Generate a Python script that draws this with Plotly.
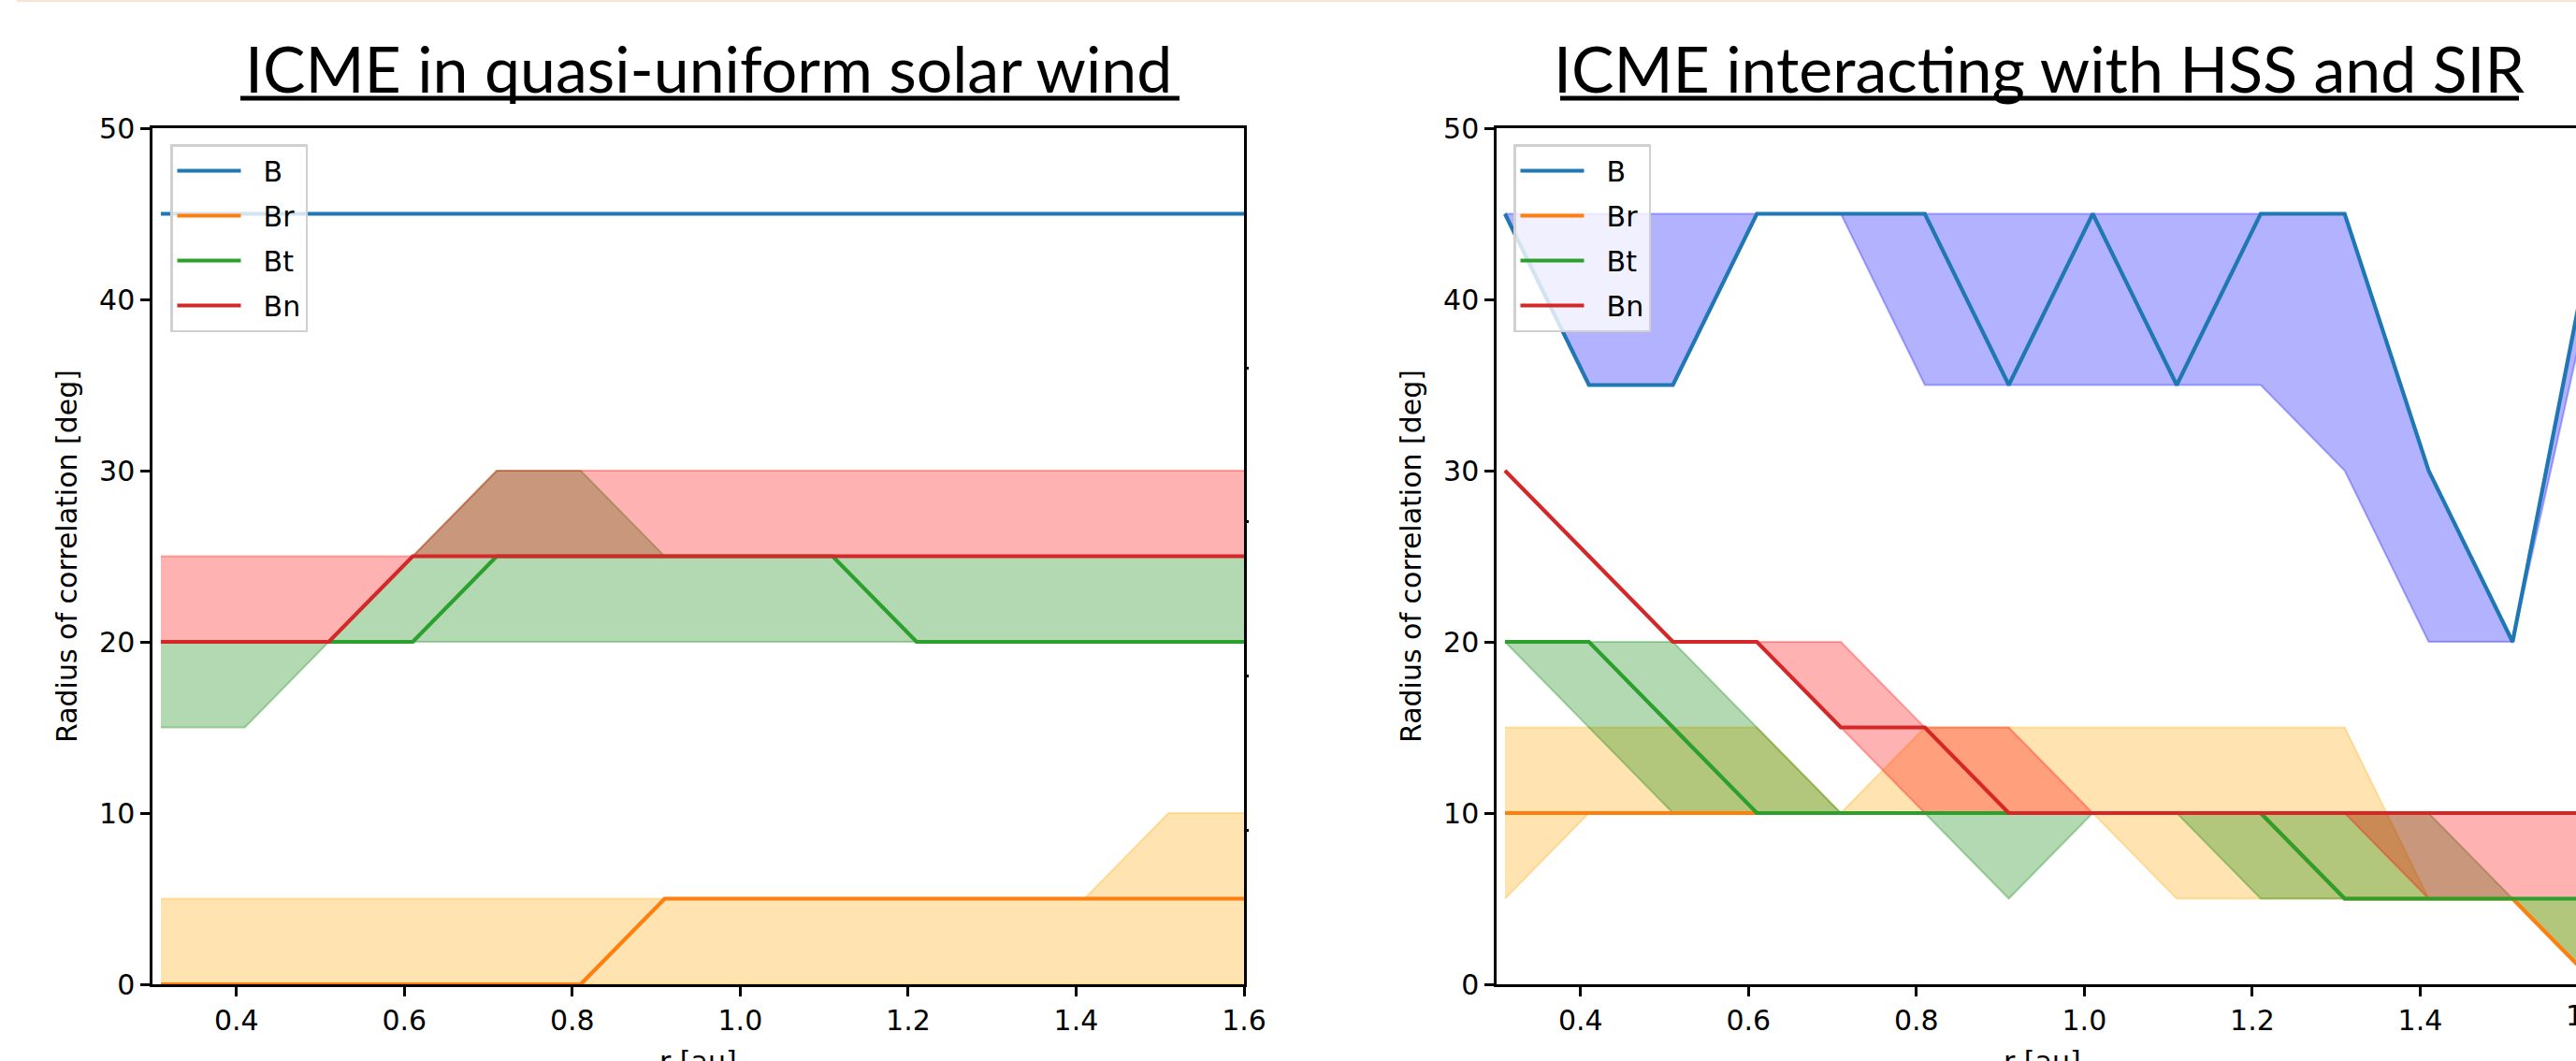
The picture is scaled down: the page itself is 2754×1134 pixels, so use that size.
import plotly.graph_objects as go

W, H = 2754, 1134

# ---------------- data ----------------
r = [0.31, 0.41, 0.51, 0.61, 0.71, 0.81, 0.91, 1.01, 1.11, 1.21, 1.31, 1.41, 1.51, 1.61]

# Left panel: ICME in quasi-uniform solar wind
L_B     = [45, 45, 45, 45, 45, 45, 45, 45, 45, 45, 45, 45, 45, 45]
L_B_lo  = [45, 45, 45, 45, 45, 45, 45, 45, 45, 45, 45, 45, 45, 45]
L_B_hi  = [45, 45, 45, 45, 45, 45, 45, 45, 45, 45, 45, 45, 45, 45]
L_Br    = [0, 0, 0, 0, 0, 0, 5, 5, 5, 5, 5, 5, 5, 5]
L_Br_lo = [0, 0, 0, 0, 0, 0, 0, 0, 0, 0, 0, 0, 0, 0]
L_Br_hi = [5, 5, 5, 5, 5, 5, 5, 5, 5, 5, 5, 5, 10, 10]
L_Bt    = [20, 20, 20, 20, 25, 25, 25, 25, 25, 20, 20, 20, 20, 20]
L_Bt_lo = [15, 15, 20, 20, 20, 20, 20, 20, 20, 20, 20, 20, 20, 20]
L_Bt_hi = [20, 20, 20, 25, 30, 30, 25, 25, 25, 25, 25, 25, 25, 25]
L_Bn    = [20, 20, 20, 25, 25, 25, 25, 25, 25, 25, 25, 25, 25, 25]
L_Bn_lo = [20, 20, 20, 25, 25, 25, 25, 25, 25, 25, 25, 25, 25, 25]
L_Bn_hi = [25, 25, 25, 25, 30, 30, 30, 30, 30, 30, 30, 30, 30, 30]

# Right panel: ICME interacting with HSS and SIR
R_B     = [45, 35, 35, 45, 45, 45, 35, 45, 35, 45, 45, 30, 20, 45]
R_B_lo  = [45, 35, 35, 45, 45, 35, 35, 35, 35, 35, 30, 20, 20, 42]
R_B_hi  = [45, 45, 45, 45, 45, 45, 45, 45, 45, 45, 45, 30, 20, 45]
R_Br    = [10, 10, 10, 10, 10, 10, 10, 10, 10, 10, 5, 5, 5, 0]
R_Br_lo = [5, 10, 10, 10, 10, 10, 10, 10, 5, 5, 5, 5, 5, 0]
R_Br_hi = [15, 15, 15, 15, 10, 15, 15, 15, 15, 15, 15, 5, 5, 5]
R_Bt    = [20, 20, 15, 10, 10, 10, 10, 10, 10, 10, 5, 5, 5, 5]
R_Bt_lo = [20, 15, 10, 10, 10, 10, 5, 10, 10, 5, 5, 5, 5, 0]
R_Bt_hi = [20, 20, 20, 15, 10, 10, 10, 10, 10, 10, 10, 10, 5, 5]
R_Bn    = [30, 25, 20, 20, 15, 15, 10, 10, 10, 10, 10, 10, 10, 10]
R_Bn_lo = [30, 25, 20, 20, 15, 10, 10, 10, 10, 10, 10, 5, 5, 5]
R_Bn_hi = [30, 25, 20, 20, 20, 15, 15, 10, 10, 10, 10, 10, 10, 10]

names = ["B", "Br", "Bt", "Bn"]
titles = ["ICME in quasi-uniform solar wind", "ICME interacting with HSS and SIR"]
x_title = "r [au]"
y_title = "Radius of correlation [deg]"
x_ticks = [0.4, 0.6, 0.8, 1.0, 1.2, 1.4, 1.6]
y_ticks = [0, 10, 20, 30, 40, 50]
twin_ticks = [9, 18, 27, 36]

# ---------------- styles ----------------
line_colors = ["#1f77b4", "#ff7f0e", "#2ca02c", "#d62728"]
fill_colors = ["rgba(0,0,255,0.3)", "rgba(255,165,0,0.3)", "rgba(0,128,0,0.3)", "rgba(255,0,0,0.3)"]
FONT = "DejaVu Sans"
FS = 30
NBSP = "\u00a0"

def px_x(p):
    return p / W

def px_y(p):
    return 1 - p / H

X1_DOM = [px_x(163), px_x(1330)]
X2_DOM = [px_x(1600), 1.0]
Y_DOM = [px_y(1052), px_y(137)]
X_RANGE1 = [0.3, 1.6]
scale = (1330 - 163) / (X_RANGE1[1] - X_RANGE1[0])
X_RANGE2 = [0.3, 0.3 + (W - 1600) / scale]

fig = go.Figure()

panels = [
    ("x", "y", "legend", [(L_B, L_B_lo, L_B_hi), (L_Br, L_Br_lo, L_Br_hi),
                          (L_Bt, L_Bt_lo, L_Bt_hi), (L_Bn, L_Bn_lo, L_Bn_hi)]),
    ("x2", "y2", "legend2", [(R_B, R_B_lo, R_B_hi), (R_Br, R_Br_lo, R_Br_hi),
                             (R_Bt, R_Bt_lo, R_Bt_hi), (R_Bn, R_Bn_lo, R_Bn_hi)]),
]

for xa, ya, leg, series in panels:
    # shaded ranges first
    for i, (ys, lo, hi) in enumerate(series):
        fig.add_trace(go.Scatter(x=r, y=lo, xaxis=xa, yaxis=ya, mode="lines",
                                 line=dict(color=fill_colors[i], width=2),
                                 showlegend=False, hoverinfo="skip"))
        fig.add_trace(go.Scatter(x=r, y=hi, xaxis=xa, yaxis=ya, mode="lines",
                                 fill="tonexty", fillcolor=fill_colors[i],
                                 line=dict(color=fill_colors[i], width=2),
                                 showlegend=False, hoverinfo="skip"))
    # lines on top
    for i, (ys, lo, hi) in enumerate(series):
        fig.add_trace(go.Scatter(x=r, y=ys, xaxis=xa, yaxis=ya, mode="lines",
                                 name=NBSP * 2 + names[i], legend=leg, legendgroup=leg + names[i],
                                 line=dict(color=line_colors[i], width=4.2)))

# empty trace carrying the small twin-axis ticks on the left panel's right spine
fig.add_trace(go.Scatter(x=[None], y=[None], xaxis="x", yaxis="y3", showlegend=False, hoverinfo="skip"))

axis_common = dict(showgrid=False, zeroline=False, showline=True, linecolor="black", automargin=False,
                   linewidth=2.5, ticks="outside", ticklen=10, tickwidth=2.5, tickcolor="black",
                   tickfont=dict(family=FONT, size=FS, color="black"))

xaxis_common = dict(axis_common, tickvals=x_ticks, tickformat=".1f")
yaxis_common = dict(axis_common, range=[0, 50], tickvals=y_ticks,
                    title=dict(text=y_title, font=dict(family=FONT, size=FS, color="black"), standoff=15))

legend_common = dict(font=dict(family=FONT, size=FS, color="black"), bgcolor="rgba(255,255,255,0.8)",
                     bordercolor="#d0d0d0", borderwidth=2.5, xanchor="left", yanchor="top",
                     tracegroupgap=6, itemwidth=68)

fig.update_layout(
    template="none",
    width=W, height=H, margin=dict(l=0, r=0, t=0, b=0, autoexpand=False),
    paper_bgcolor="white", plot_bgcolor="white",
    xaxis=dict(xaxis_common, domain=X1_DOM, range=X_RANGE1, anchor="y", mirror=True),
    yaxis=dict(yaxis_common, domain=Y_DOM, anchor="x", mirror=True),
    xaxis2=dict(xaxis_common, domain=X2_DOM, range=X_RANGE2, anchor="y2", mirror=True),
    yaxis2=dict(yaxis_common, domain=Y_DOM, anchor="x2", mirror=False),
    yaxis3=dict(overlaying="y", anchor="x", side="right", range=[0, 50], tickvals=twin_ticks,
                ticks="outside", ticklen=4, tickwidth=2.5, tickcolor="black", automargin=False,
                showticklabels=False, showgrid=False, zeroline=False, showline=False),
    legend=dict(legend_common, x=px_x(182), y=px_y(154)),
    legend2=dict(legend_common, x=px_x(1618), y=px_y(154)),
    showlegend=True,
)

def dom_pos(dom, rng, v):
    return dom[0] + (v - rng[0]) / (rng[1] - rng[0]) * (dom[1] - dom[0])

# x-axis titles, sitting low as in the original (partly cut by the page bottom)
for dom, rng in [(X1_DOM, X_RANGE1), (X2_DOM, X_RANGE2)]:
    fig.add_annotation(text=x_title, x=(X1_DOM[0] + X1_DOM[1]) / 2 if dom is X1_DOM else
                       dom_pos(X2_DOM, X_RANGE2, (X_RANGE1[0] + X_RANGE1[1]) / 2),
                       y=Y_DOM[0], xref="paper", yref="paper", xanchor="center", yanchor="top",
                       yshift=-63, showarrow=False, font=dict(family=FONT, size=FS, color="black"))

# clipped "1.6" tick label of the right panel (its axis end lies just past the page edge)
fig.add_annotation(text="1.6", x=dom_pos(X2_DOM, X_RANGE2, x_ticks[-1]), y=Y_DOM[0],
                   xref="paper", yref="paper", xanchor="center", yanchor="top", yshift=-14,
                   showarrow=False, font=dict(family=FONT, size=FS, color="black"))

# titles with underline
title_centers = [758, 2180]
underlines = [(257, 1261), (1668, 2693)]
for t, cx, (u0, u1) in zip(titles, title_centers, underlines):
    fig.add_annotation(text=t, x=px_x(cx), y=px_y(72), xref="paper", yref="paper",
                       xanchor="center", yanchor="middle", showarrow=False,
                       font=dict(family="Lato", size=68, color="black"))
    fig.add_shape(type="line", xref="paper", yref="paper", x0=px_x(u0), x1=px_x(u1),
                  y0=px_y(105), y1=px_y(105), line=dict(color="black", width=5))

# faint slide border line at top
fig.add_shape(type="line", xref="paper", yref="paper", x0=px_x(18), x1=1.0,
              y0=px_y(1), y1=px_y(1), line=dict(color="#FBE3D3", width=2))

fig.write_html("out.html")
